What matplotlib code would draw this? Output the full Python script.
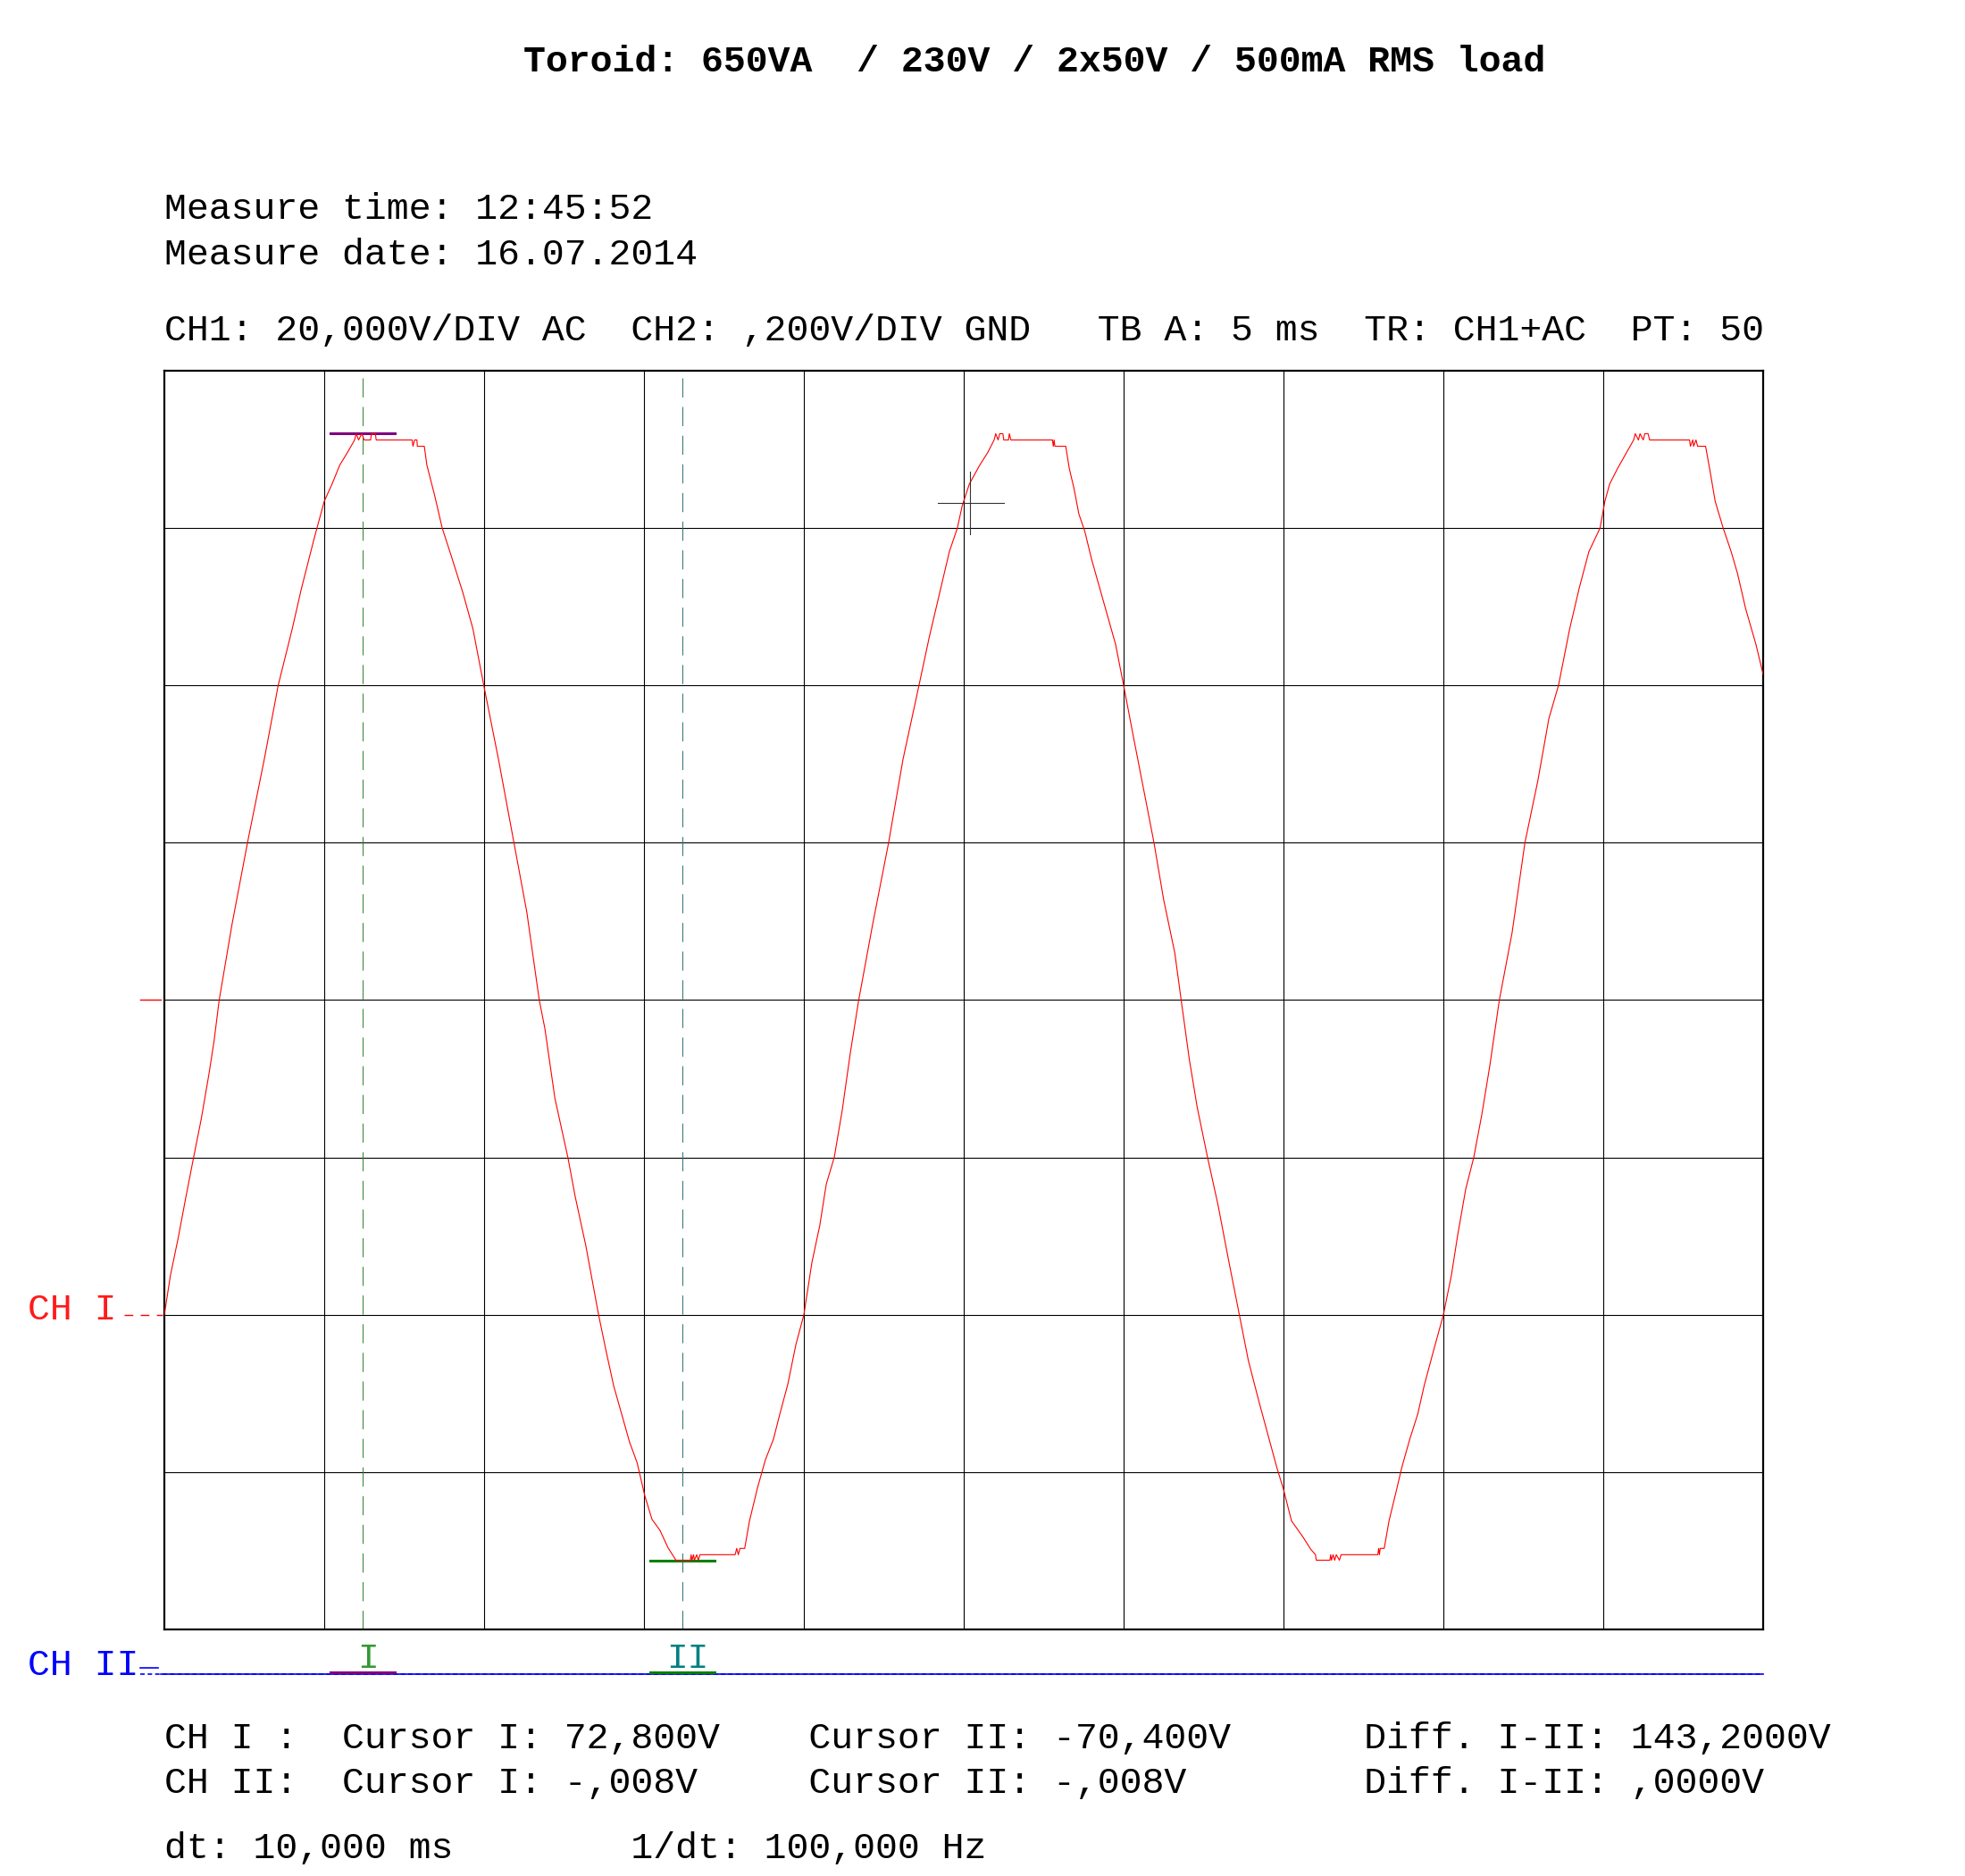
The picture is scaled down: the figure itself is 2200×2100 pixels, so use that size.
import matplotlib
matplotlib.use("Agg")
import matplotlib.pyplot as plt
import numpy as np

# scope settings
MS_PER_DIV = 5
V_PER_DIV = 20
n_xdiv = 10
n_ydiv = 8
v_bottom = -79.2          # ground sits a bit below the centre line
v_top = v_bottom + n_ydiv * V_PER_DIV

# CH1 trace (ms, V)
t_ms = [
    0.0, 0.19, 0.435, 0.675, 0.915, 1.15, 1.395, 1.555, 1.715, 2.115, 2.6, 3.125,
    3.56, 4.0, 4.28, 4.68, 5.0, 5.245, 5.485, 5.725, 5.95, 6.0, 6.075, 6.175, 6.25,
    6.45, 6.475, 6.6, 6.625, 7.75, 7.775, 7.825, 7.9, 7.91, 8.13, 8.21, 8.45, 8.69,
    8.93, 9.335, 9.65, 9.99, 10.45, 10.935, 11.335, 11.725, 11.9, 12.215, 12.62,
    12.85, 13.18, 13.58, 13.825, 14.05, 14.3, 14.55, 14.785, 15.025, 15.25, 15.5,
    15.75, 16.0, 16.45, 16.475, 16.5, 16.55, 16.575, 16.65, 16.7, 16.75, 17.85,
    17.9, 17.95, 18.0, 18.15, 18.3, 18.55, 18.8, 19.05, 19.25, 19.5, 19.75, 20.0,
    20.25, 20.5, 20.7, 20.95, 21.2, 21.45, 21.715, 22.15, 22.65, 23.1, 23.6,
    23.925, 24.25, 24.55, 24.8, 24.95, 25.175, 25.5, 25.75, 25.95, 26.0, 26.075,
    26.125, 26.225, 26.25, 26.4, 26.425, 26.475, 27.775, 27.8, 27.825, 27.85,
    28.19, 28.3, 28.45, 28.6, 28.785, 29.0, 29.25, 29.5, 29.75, 30.0, 30.3,
    30.625, 30.95, 31.25, 31.6, 31.8, 32.05, 32.3, 32.625, 32.95, 33.27, 33.62,
    33.9, 34.23, 34.55, 34.79, 35.0, 35.25, 35.6, 35.85, 36.0, 36.025, 36.45,
    36.475, 36.5, 36.55, 36.6, 36.65, 36.75, 36.8, 37.95, 37.975, 38.0, 38.025,
    38.15, 38.3, 38.55, 38.7, 38.95, 39.2, 39.4, 39.65, 40.0, 40.25, 40.45, 40.7,
    40.95, 41.2, 41.45, 41.75, 42.15, 42.55, 42.95, 43.3, 43.6, 43.95, 44.25,
    44.55, 44.9, 45.05, 45.2, 45.45, 45.7, 45.95, 46.0, 46.1, 46.15, 46.25, 46.3,
    46.4, 46.45, 47.7, 47.725, 47.8, 47.825, 47.9, 47.95, 48.2, 48.35, 48.5,
    48.75, 49.0, 49.2, 49.45, 49.775, 50.0,
]
ch1_v = [
    -39.2, -34.2, -29.4, -24.2, -19.2, -14.4, -8.6, -4.4, 0.8, 10.4, 20.8, 31.4,
    40.8, 48.0, 53.0, 59.4, 64.2, 66.4, 68.8, 70.4, 72.0, 72.8, 72.0, 72.8, 72.0,
    72.0, 72.8, 72.8, 72.0, 72.0, 71.2, 72.0, 72.0, 71.2, 71.2, 68.8, 65.0, 60.8,
    57.8, 52.6, 48.0, 40.8, 31.4, 20.8, 12.0, 0.8, -2.8, -11.7, -19.2,
    -24.2, -30.4, -39.2, -44.0, -48.2, -51.8, -55.4, -58.0, -62.2, -65.2, -66.6,
    -68.8, -70.4, -70.4, -69.7, -70.4, -69.7, -70.4, -69.7, -70.4, -69.7, -69.7,
    -68.9, -69.7, -68.9, -68.9, -65.4, -61.2, -57.6, -55.0, -51.8, -48.0, -43.0, -39.2,
    -32.6, -27.8, -22.6, -19.2, -13.2, -6.0, 0.8, 10.4, 20.8, 31.4, 40.8,
    47.0, 52.6, 57.8, 60.8, 63.6, 66.4, 68.8, 70.4, 72.0, 72.8, 72.0,
    72.8, 72.8, 72.0, 72.0, 72.8, 72.0, 72.0, 71.2, 72.0, 71.2,
    71.2, 68.4, 65.8, 62.6, 60.4, 56.8, 53.2, 49.6, 46.0, 40.8, 34.4,
    27.6, 20.8, 13.6, 6.8, 0.8, -6.6, -12.8, -19.2, -25.2, -32.0, -39.2,
    -45.0, -50.2, -55.0, -58.6, -61.4, -65.4, -67.4, -69.0, -69.7, -70.4, -70.4,
    -69.7, -70.4, -69.7, -70.4, -69.7, -70.4, -69.7, -69.7, -68.9, -69.7, -68.9,
    -68.9, -65.4, -61.2, -58.6, -55.0, -51.8, -48.2, -44.4, -39.2, -34.2, -29.0, -23.2,
    -19.2, -13.8, -7.6, 0.8, 9.4, 20.8, 28.6, 36.6, 40.8, 48.0, 53.2,
    57.8, 60.8, 64.2, 66.4, 68.4, 70.2, 72.0, 72.8, 72.0, 72.8, 72.0, 72.8,
    72.8, 72.0, 72.0, 71.2, 72.0, 71.2, 72.0, 71.2, 71.2, 67.8, 64.2,
    60.8, 57.8, 55.0, 50.6, 46.0, 42.2,
]

# cursors
cursor_t = [6.2, 16.2]
cursor_v = [72.8, -70.4]
cursor_names = ["I", "II"]
trigger_v = -39.2
ground_v = 0.8
crosshair = (25.2, 64.0)

title = "Toroid: 650VA  / 230V / 2x50V / 500mA RMS load"
header_lines = ["Measure time: 12:45:52", "Measure date: 16.07.2014"]
settings_line = "CH1: 20,000V/DIV AC  CH2: ,200V/DIV GND   TB A: 5 ms  TR: CH1+AC  PT: 50"
readout_lines = [
    "CH I :  Cursor I: 72,800V    Cursor II: -70,400V      Diff. I-II: 143,2000V",
    "CH II:  Cursor I: -,008V     Cursor II: -,008V        Diff. I-II: ,0000V",
    "dt: 10,000 ms        1/dt: 100,000 Hz",
]

W, H = 2200, 2100
fig = plt.figure(figsize=(W / 100, H / 100), dpi=100)
plt.rcParams['font.family'] = ['Liberation Mono', 'DejaVu Sans Mono']
FS = 29.85


def fx(px):
    return px / W


def fy(py):
    return 1 - py / H


ax = fig.add_axes([fx(184), fy(1824), fx(1974) - fx(184), (1824 - 415) / H])
ax.set_xlim(0, n_xdiv * MS_PER_DIV)
ax.set_ylim(v_bottom, v_top)
for k in range(1, n_xdiv):
    ax.axvline(k * MS_PER_DIV, color="black", lw=0.8, zorder=1)
for k in range(1, n_ydiv):
    ax.axhline(v_bottom + k * V_PER_DIV, color="black", lw=0.8, zorder=1)
ax.set_xticks([])
ax.set_yticks([])
for s in ax.spines.values():
    s.set_linewidth(1.6)
    s.set_color("black")

# cursor lines
ax.axvline(cursor_t[0], color="#2e7d2e", lw=0.7, dashes=(22, 11), zorder=2)
ax.axvline(cursor_t[1], color="#2a6f6f", lw=0.7, dashes=(22, 11), zorder=2)
ax.plot([cursor_t[0] - 1, cursor_t[0] + 1], [cursor_v[0], cursor_v[0]], color="#800080", lw=2.2, zorder=3)
ax.plot([cursor_t[1] - 1, cursor_t[1] + 1], [cursor_v[1], cursor_v[1]], color="#008000", lw=2.2, zorder=3)

# trace
ax.plot(t_ms, ch1_v, color="#ff0000", lw=0.8, zorder=4)

# crosshair
cx, cy = crosshair
ax.plot([cx - 1.0, cx + 1.05], [cy, cy], color="#333333", lw=0.8, zorder=5)
ax.plot([cx, cx], [cy - 4, cy + 4], color="#333333", lw=0.8, zorder=5)

# channel markers left of the screen
ax.plot([-0.75, -0.12], [ground_v, ground_v], color="#ff0000", lw=1.0, clip_on=False)
ax.plot([-1.25, -0.05], [trigger_v, trigger_v], color="#ff0000", lw=1.0, dashes=(7, 6), clip_on=False)
fig.text(fx(31), fy(1466), "CH I", color="#ff1a1a", fontsize=FS, ha="left", va="center")

# CH II ground line under the screen
ch2_y = fy(1874)
fig.text(fx(31), fy(1864), "CH II", color="#0000ff", fontsize=FS, ha="left", va="center")
fig.add_artist(plt.Line2D([fx(157), fx(177)], [fy(1867), fy(1867)], color="#0000ff", lw=1.2))
fig.add_artist(plt.Line2D([fx(157), fx(1974)], [ch2_y, ch2_y], color="#0000ff", lw=1.2, dashes=(3, 2)))
fig.add_artist(plt.Line2D([fx(180), fx(1974)], [ch2_y, ch2_y], color="#0000ff", lw=1.2))

span_cols = ["#800080", "#008000"]
label_cols = ["#339933", "#008080"]
for t, name, sc, lc in zip(cursor_t, cursor_names, span_cols, label_cols):
    x0 = 184 + (t - 1) / MS_PER_DIV * 179
    x1 = 184 + (t + 1) / MS_PER_DIV * 179
    fig.add_artist(plt.Line2D([fx(x0), fx(x1)], [fy(1872), fy(1872)], color=sc, lw=2.2))
    xc = 184 + t / MS_PER_DIV * 179 + 6
    fig.text(fx(xc), fy(1857), name, color=lc, fontsize=FS * 0.95, ha="center", va="center")

# texts
fig.text(0.5262, fy(69), title, fontsize=FS, fontweight="bold", ha="center", va="center")
fig.text(fx(184), fy(234), header_lines[0], fontsize=FS, ha="left", va="center")
fig.text(fx(184), fy(285), header_lines[1], fontsize=FS, ha="left", va="center")
fig.text(fx(184), fy(370), settings_line, fontsize=FS, ha="left", va="center")
for line, yy in zip(readout_lines, [1946, 1996, 2069]):
    fig.text(fx(184), fy(yy), line, fontsize=FS, ha="left", va="center")

fig.savefig("out.png", dpi=100, facecolor="white")
